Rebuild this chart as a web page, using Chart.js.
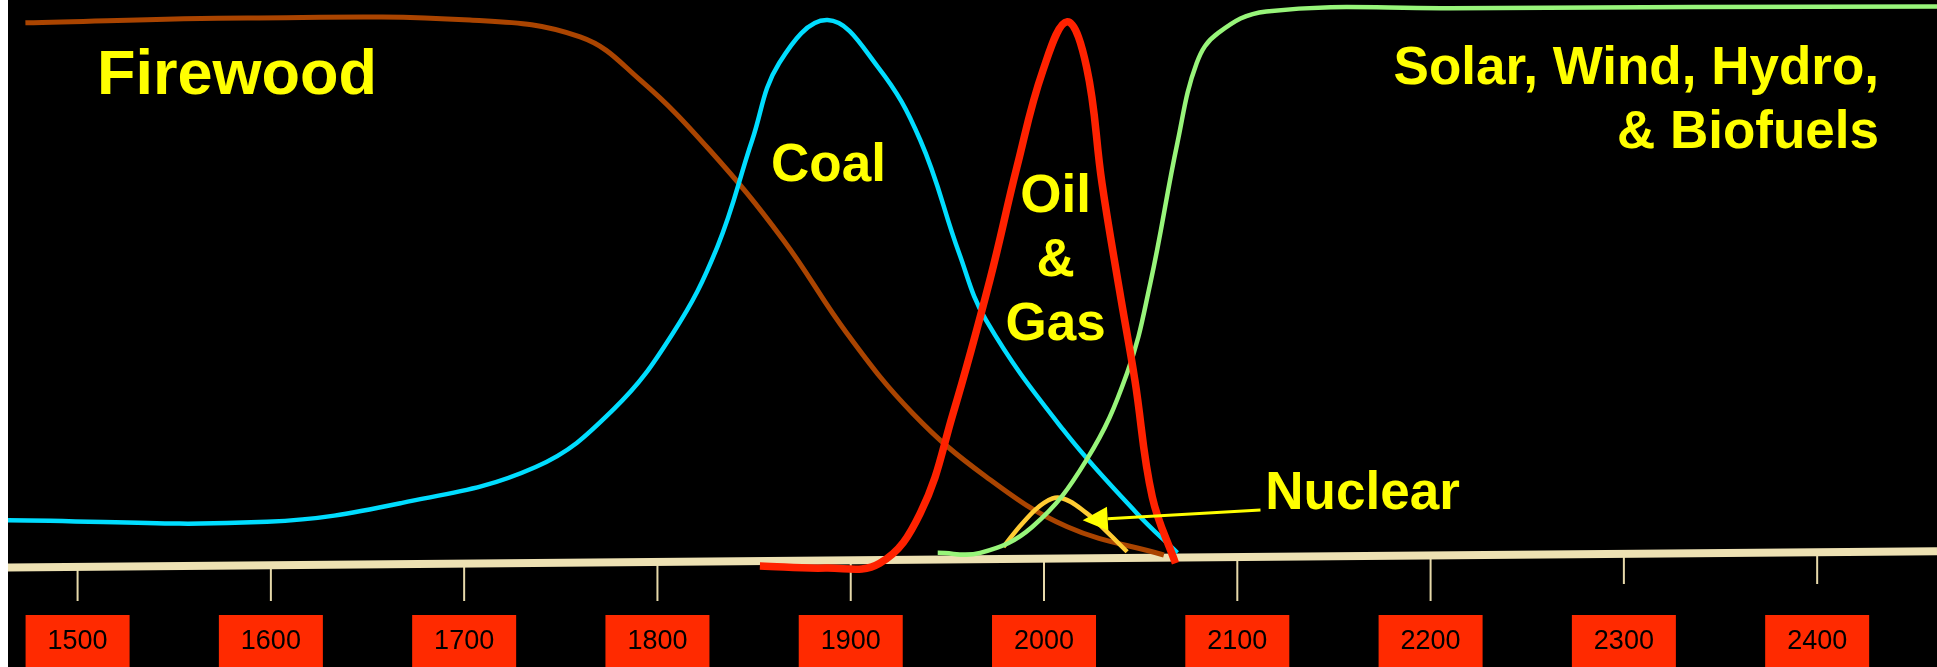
<!DOCTYPE html>
<html>
<head>
<meta charset="utf-8">
<script src="https://cdn.jsdelivr.net/npm/chart.js@4.4.0/dist/chart.umd.min.js"></script>
<style>
  html, body { margin: 0; padding: 0; background: #fff; overflow: hidden; }
  #wrap { position: absolute; left: 8px; top: 0; width: 1929px; height: 667px; background: #000; }
</style>
</head>
<body>
<div id="wrap"><canvas id="energy" width="1929" height="667"></canvas></div>
<script>
// x = year, y = rough share of energy use (0..100)
const tick_years = [1500, 1600, 1700, 1800, 1900, 2000, 2100, 2200, 2300, 2400];
const tick_labels = ['1500', '1600', '1700', '1800', '1900', '2000', '2100', '2200', '2300', '2400'];

const baseline_years = [1464, 2462];
const baseline_level = [-1.0, 2.0];

const firewood_years = [1473, 1588, 1703, 1760, 1791, 1827, 1865, 1898, 1932, 1970, 2012, 2062];
const firewood_share = [99.2, 100.1, 99.7, 96.6, 88.7, 75.8, 59.3, 42.1, 27.4, 15.7, 6.5, 1.3];

const coal_years = [1464, 1598, 1668, 1737, 1777, 1808, 1831, 1849, 1863, 1888, 1914, 1936, 1956, 1970, 2010, 2048, 2069];
const coal_share = [7.7, 7.4, 10.9, 17.5, 28.0, 42.1, 58.0, 77.6, 91.8, 99.7, 91.1, 77.6, 56.9, 44.5, 24.3, 9.0, 1.7];

const oil_years = [1853, 1887, 1915, 1936, 1953, 1972, 1986, 1999.5, 2012, 2022, 2030, 2039, 2047, 2056, 2068];
const oil_share = [-0.7, -1.1, -0.2, 9.0, 27.4, 51.9, 72.7, 90.5, 99.4, 91.1, 69.7, 50.1, 33.5, 12.0, -0.2];

const renew_years = [1945, 1967, 1994, 2022, 2043, 2055, 2069, 2079, 2090, 2115, 2210, 2462];
const renew_share = [1.7, 1.7, 6.5, 18.8, 34.8, 51.3, 77.1, 91.8, 97.3, 101.3, 101.9, 102.2];

const nuclear_years = [1979, 1989, 2000, 2009, 2022, 2033, 2043];
const nuclear_share = [2.8, 7.2, 10.9, 11.8, 9.0, 5.4, 1.9];

function points(years, values) {
    ret = [];
    years.forEach((y, i) => {
        ret[ret.length] = { x: y, y: values[i] };
    });
    return ret;
}

function baseline_at(year) {
    const t = (year - baseline_years[0]) / (baseline_years[1] - baseline_years[0]);
    return baseline_level[0] + t * (baseline_level[1] - baseline_level[0]);
}

// text on the slide, anchored in chart units
const notes = [
    { text: 'Firewood', x: 1510, y: 86.1, align: 'left', size: 63 },
    { text: 'Coal', x: 1888.5, y: 70.1, align: 'center', size: 53 },
    { text: 'Oil', x: 2006, y: 64.4, align: 'center', size: 53 },
    { text: '&', x: 2006, y: 52.6, align: 'center', size: 53 },
    { text: 'Gas', x: 2006, y: 40.9, align: 'center', size: 53 },
    { text: 'Solar, Wind, Hydro,', x: 2432, y: 88.0, align: 'right', size: 53 },
    { text: '& Biofuels', x: 2432, y: 76.2, align: 'right', size: 53 },
    { text: 'Nuclear', x: 2114.5, y: 9.8, align: 'left', size: 53 },
];
const arrow = { from: [2112, 9.6], to: [2020, 7.7] };

const timeline = {
    id: 'timeline',
    beforeDatasetsDraw(c) {
        const ctx = c.ctx, xs = c.scales.x, ys = c.scales.y;
        ctx.save();
        tick_years.forEach((v, i) => {
            const px = xs.getPixelForValue(v);
            const top = ys.getPixelForValue(baseline_at(v));
            const bottom = v >= 2300 ? 584 : 601;
            ctx.strokeStyle = '#e6d9aa';
            ctx.lineWidth = 2;
            ctx.beginPath();
            ctx.moveTo(px, top);
            ctx.lineTo(px, bottom);
            ctx.stroke();

            ctx.fillStyle = '#ff2a00';
            ctx.fillRect(px - 52, 615, 104, 60);
            ctx.fillStyle = '#000';
            ctx.font = '27px "Liberation Sans", Arial, sans-serif';
            ctx.textAlign = 'center';
            ctx.textBaseline = 'middle';
            ctx.fillText(tick_labels[i], px, 642);
        });
        ctx.restore();
    },
    afterDatasetsDraw(c) {
        const ctx = c.ctx, xs = c.scales.x, ys = c.scales.y;
        ctx.save();
        ctx.fillStyle = '#ffff00';
        ctx.textBaseline = 'alphabetic';
        notes.forEach(n => {
            ctx.font = 'bold ' + n.size + 'px "Liberation Sans", Arial, sans-serif';
            ctx.textAlign = n.align;
            ctx.fillText(n.text, xs.getPixelForValue(n.x), ys.getPixelForValue(n.y));
        });
        // arrow from "Nuclear" to its curve
        const x0 = xs.getPixelForValue(arrow.from[0]), y0 = ys.getPixelForValue(arrow.from[1]);
        const x1 = xs.getPixelForValue(arrow.to[0]), y1 = ys.getPixelForValue(arrow.to[1]);
        const ang = Math.atan2(y1 - y0, x1 - x0);
        const len = 25, half = 12;
        const bx = x1 - len * Math.cos(ang), by = y1 - len * Math.sin(ang);
        ctx.strokeStyle = '#ffff00';
        ctx.lineWidth = 3;
        ctx.beginPath();
        ctx.moveTo(x0, y0);
        ctx.lineTo(bx, by);
        ctx.stroke();
        ctx.beginPath();
        ctx.moveTo(x1, y1);
        ctx.lineTo(bx + half * Math.sin(ang), by - half * Math.cos(ang));
        ctx.lineTo(bx - half * Math.sin(ang), by + half * Math.cos(ang));
        ctx.closePath();
        ctx.fill();
        ctx.restore();
    }
};

function curve(label, years, values, color, width) {
    return {
        label: label,
        data: points(years, values),
        borderColor: color,
        borderWidth: width,
        tension: 0.4,
        pointRadius: 0,
        fill: false,
    };
}

new Chart(document.getElementById('energy'), {
    type: 'line',
    data: {
        datasets: [
            curve('Oil & Gas', oil_years, oil_share, '#ff2200', 7.5),
            curve('Solar, Wind, Hydro, & Biofuels', renew_years, renew_share, '#98f57a', 4.5),
            curve('Nuclear', nuclear_years, nuclear_share, '#ffcc33', 4.5),
            curve('Coal', coal_years, coal_share, '#00ddff', 4.5),
            curve('Firewood', firewood_years, firewood_share, '#aa4400', 5),
            curve('baseline', baseline_years, baseline_level, '#ede1b3', 8),
        ]
    },
    options: {
        responsive: false,
        animation: false,
        devicePixelRatio: 1,
        layout: { padding: 0 },
        plugins: { legend: { display: false }, tooltip: { enabled: false } },
        scales: {
            x: { type: 'linear', min: 1464, max: 2462, display: false },
            y: { min: -19.3, max: 103.4, display: false }
        }
    },
    plugins: [timeline]
});
</script>
</body>
</html>
